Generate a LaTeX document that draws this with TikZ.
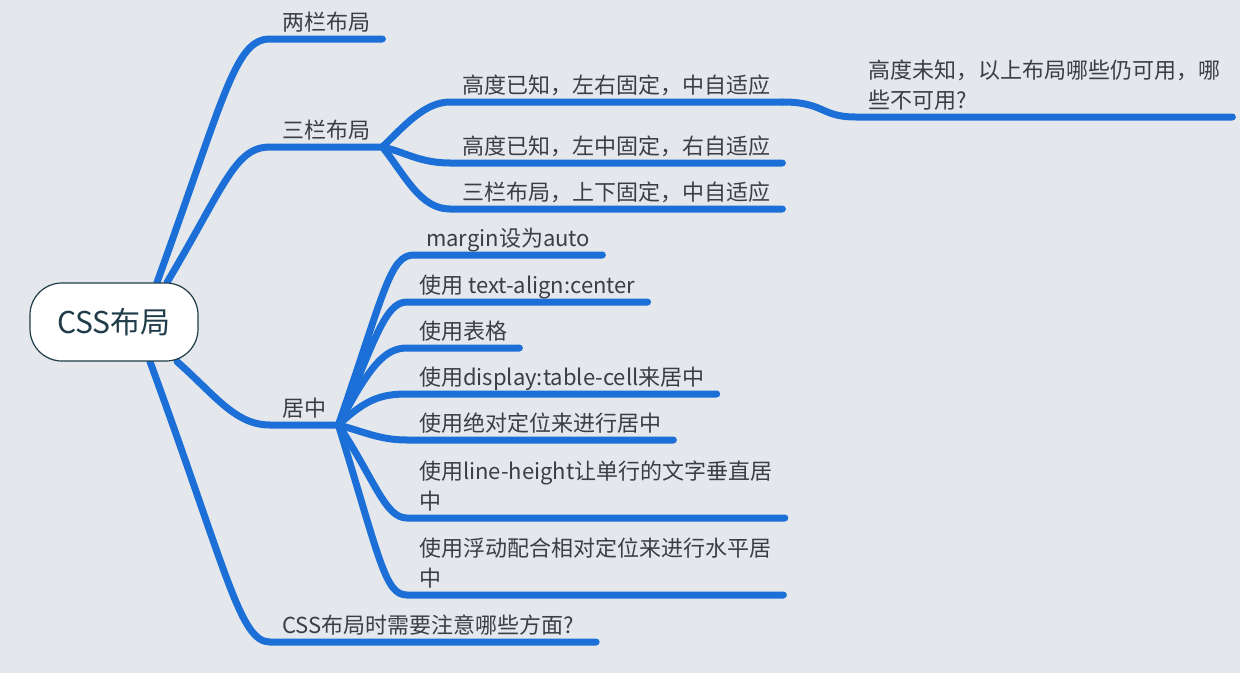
\documentclass[tikz,border=0pt]{standalone}
\usepackage{fontspec}
\setmainfont{Noto Sans CJK SC}
\usetikzlibrary{backgrounds}
\definecolor{bgcol}{HTML}{E4E8EC}
\definecolor{linecol}{HTML}{1B6FD6}
\definecolor{txtcol}{HTML}{3A3F45}
\definecolor{rootcol}{HTML}{1F3C48}
\begin{document}
\begin{tikzpicture}[x=1pt,y=-1pt,
  topic/.style={font=\fontsize{22pt}{30pt}\selectfont, text=txtcol, anchor=south west,
    inner xsep=12pt, inner ysep=8.5pt, text depth=0pt, align=left},
  branch/.style={draw=linecol, line width=7pt, line cap=round}]
\useasboundingbox (0,0) rectangle (1240,673);

\node[draw=rootcol, line width=1.2pt, fill=white, rounded corners=32pt,
  minimum width=168pt, minimum height=78pt,
  font=\fontsize{30pt}{36pt}\selectfont, text=rootcol] (root) at (114,322) {CSS布局};

\node[topic] (liang) at (270,39) {两栏布局};
\node[topic] (san) at (270,147) {三栏布局};
\node[topic] (juzhong) at (270,425) {居中};
\node[topic] (zhuyi) at (270,642) {CSS布局时需要注意哪些方面?\hspace{10pt}};

\node[topic] (zuoyou) at (450,102) {高度已知，左右固定，中自适应};
\node[topic] (zuozhong) at (450,163) {高度已知，左中固定，右自适应};
\node[topic] (shangxia) at (450,209) {三栏布局，上下固定，中自适应};
\node[topic] (weizhi) at (856,117) {高度未知，以上布局哪些仍可用，哪\\些不可用?};

\node[topic] (margin) at (414,255) {margin设为auto};
\node[topic] (talign) at (407,302) {使用 text-align:center};
\node[topic] (biaoge) at (407,348) {使用表格};
\node[topic] (tcell) at (407,394) {使用display:table-cell来居中};
\node[topic] (juedui) at (407,440) {使用绝对定位来进行居中};
\node[topic] (lheight) at (407,518) {使用line-height让单行的文字垂直居\\中};
\node[topic] (fudong) at (407,595) {使用浮动配合相对定位来进行水平居\\中};

\begin{scope}[on background layer]
\fill[bgcol] (0,0) rectangle (1240,673);

% root branches
\draw[branch] ([xshift=43pt]root.north) .. controls (225,95) and (235,39) .. (liang.south west) -- (liang.south east);
\draw[branch] ([xshift=53pt]root.north) .. controls (225,185) and (235,147) .. (san.south west) -- (san.south east);
\draw[branch] ([xshift=63pt]root.south) .. controls (215,395) and (235,425) .. (juzhong.south west) -- (juzhong.south east);
\draw[branch] ([xshift=36pt]root.south) .. controls (228,575) and (240,642) .. (zhuyi.south west) -- (zhuyi.south east);

% three columns
\draw[branch] (san.south east) .. controls (405,125) and (425,102) .. (zuoyou.south west) -- (zuoyou.south east);
\draw[branch] (san.south east) .. controls (405,152) and (420,163) .. (zuozhong.south west) -- (zuozhong.south east);
\draw[branch] (san.south east) .. controls (405,175) and (420,209) .. (shangxia.south west) -- (shangxia.south east);
\draw[branch] (zuoyou.south east) .. controls (825,102) and (820,117) .. (weizhi.south west) -- (weizhi.south east);

% centering
\draw[branch] (juzhong.south east) .. controls (385,290) and (390,255) .. (margin.south west) -- (margin.south east);
\draw[branch] (juzhong.south east) .. controls (375,340) and (385,302) .. (talign.south west) -- (talign.south east);
\draw[branch] (juzhong.south east) .. controls (370,365) and (385,348) .. (biaoge.south west) -- (biaoge.south east);
\draw[branch] (juzhong.south east) .. controls (365,400) and (380,394) .. (tcell.south west) -- (tcell.south east);
\draw[branch] (juzhong.south east) .. controls (365,432) and (380,440) .. (juedui.south west) -- (juedui.south east);
\draw[branch] (juzhong.south east) .. controls (375,480) and (385,518) .. (lheight.south west) -- (lheight.south east);
\draw[branch] (juzhong.south east) .. controls (380,560) and (385,595) .. (fudong.south west) -- (fudong.south east);
\end{scope}
\end{tikzpicture}
\end{document}
